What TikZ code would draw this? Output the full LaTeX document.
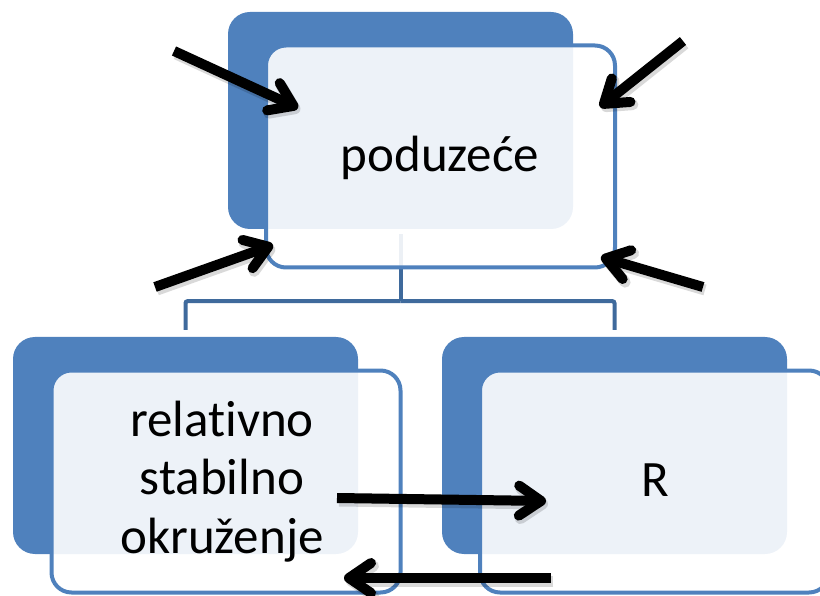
\documentclass[tikz,border=0pt]{standalone}
\usepackage{fontspec}
\setmainfont{Carlito}[Ligatures=NoCommon]
\usetikzlibrary{arrows.meta,calc}
\definecolor{accent}{HTML}{4F81BD}
\definecolor{connblue}{HTML}{3F6A9C}
\begin{document}
\begin{tikzpicture}[x=1pt,y=-1pt,
  bluebox/.style={fill=accent, draw=none, rounded corners=22pt, minimum width=345pt, minimum height=217pt, inner sep=0pt},
  whitebox/.style={draw=accent, line width=4pt, fill=white, fill opacity=0.9, rounded corners=20pt, minimum width=349pt, minimum height=222pt, inner sep=0pt},
  conn/.style={draw=connblue, line width=4pt, rounded corners=2pt},
  lbl/.style={anchor=base, inner sep=0pt, font=\fontsize{51}{58.5}\selectfont},
  arr/.style={line width=10pt, draw=black, -{Straight Barb[round,length=22pt,width=30pt]}},
  arrshadow/.style={line width=11pt, draw=black, draw opacity=0.15, -{Straight Barb[round,length=22pt,width=30pt]}}
]
\useasboundingbox (0,0) rectangle (820,596);
\clip (0,0) rectangle (820,596);

% back (blue) boxes
\node[bluebox] (tb) at (400.5,120.5) {};
\node[bluebox] (bl) at (185.5,445.5) {};
\node[bluebox] (br) at (614.5,445.5) {};

% hierarchy connectors
\draw[conn] ($(tb.south)+(0,5)$) -- ($(tb.south)+(0,72)$) coordinate (hub);
\draw[conn] (hub) -| ($(bl.north)+(0,-7)$);
\draw[conn] (hub) -| ($(br.north)+(0,-7)$);

% front (outlined) boxes
\node[whitebox] (tw) at (440.5,156.5) {};
\node[whitebox] (blw) at (226,481.5) {};
\node[whitebox] (brw) at (654.5,481.5) {};

% texts
\node[lbl] (t1) at (440,172) {poduzeće};
\node[lbl] (t2) at (222,436) {\begin{tabular}[t]{@{}c@{}}relativno\\stabilno\\okruženje\end{tabular}};
\node[lbl] (t3) at (655,496) {R};

% arrows
\coordinate (s1) at (174,51);   \coordinate (e1) at (298,108);
\coordinate (s2) at (683,41);   \coordinate (e2) at (600,107);
\coordinate (s3) at (155,287);  \coordinate (e3) at (273,245);
\coordinate (s4) at (703,287);  \coordinate (e4) at (601,257);
\coordinate (s5) at (337,498);  \coordinate (e5) at (546,501);
\coordinate (s6) at (551,578);  \coordinate (e6) at (344,578);
\foreach \i in {1,...,6}{
  \draw[arrshadow] ($(s\i)+(2,3)$) -- ($(e\i)+(2,3)$);
  \draw[arr] (s\i) -- (e\i);
}
\end{tikzpicture}
\end{document}
